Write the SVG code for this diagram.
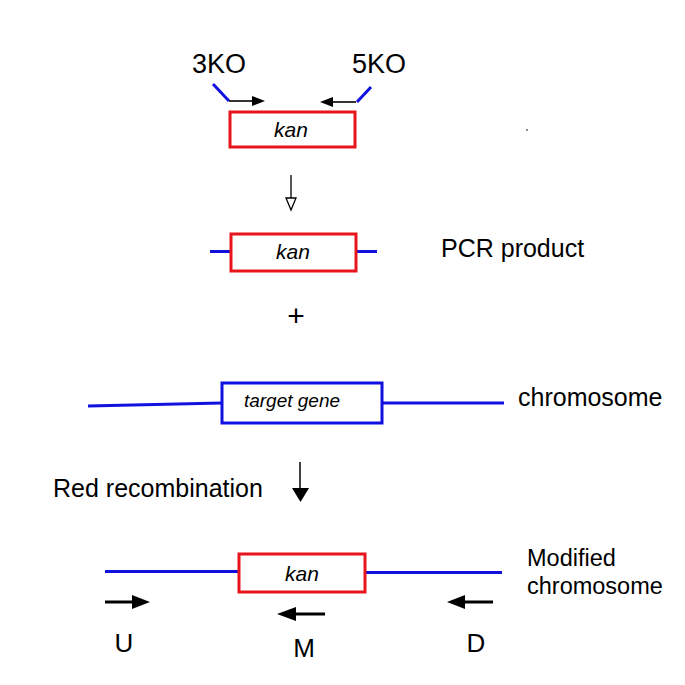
<svg xmlns="http://www.w3.org/2000/svg" width="685" height="685" viewBox="0 0 685 685">
<style>
text{font-family:"Liberation Sans",Arial,sans-serif;fill:#000}
.red{fill:#fff;stroke:#e8141c;stroke-width:3}
.blue{fill:#fff;stroke:#1010e0;stroke-width:3}
.dna{stroke:#1010e0;stroke-width:3;fill:none}
.ar{stroke:#000;stroke-width:3;fill:none}
.ar2{stroke:#000;stroke-width:1.6;fill:none}
.lbl{font-size:25px}
.lbl2{font-size:23.5px}
.pl{font-size:26px;text-anchor:middle}
.it{font-style:italic}
.kan{font-size:21px;font-style:italic;text-anchor:middle}
</style>
<rect width="685" height="685" fill="#fff"/>
<g id="primers">
<text x="192" y="73" font-size="27">3KO</text>
<text x="352" y="73" font-size="27">5KO</text>
<path class="dna" d="M213,84 L229,101"/>
<path class="dna" d="M371,87 L357,102"/>
</g>
<g id="kan-template">
<rect class="red" x="230" y="112" width="125" height="35"/>
<text class="kan" x="291" y="137">kan</text>
</g>
<g id="pcr-product">
<path class="dna" d="M210,251.5 H231 M356,251.5 H377"/>
<rect class="red" x="231" y="234" width="125" height="37"/>
<text class="kan" x="293" y="259">kan</text>
<text class="lbl" x="441" y="257">PCR product</text>
</g>
<g id="plus">
<text x="296" y="326" font-size="30" text-anchor="middle">+</text>
</g>
<g id="chromosome">
<path class="dna" d="M88,406 L222,403 M382,403 H504"/>
<rect class="blue" x="222" y="383" width="160" height="40"/>
<text class="it" x="292" y="407" font-size="19" text-anchor="middle">target gene</text>
<text class="lbl" x="518" y="406">chromosome</text>
</g>
<g id="red-recombination">
<text x="53" y="497" font-size="25">Red recombination</text>
</g>
<g id="modified-chromosome">
<path class="dna" d="M105,571.5 H239 M365,572.5 H502"/>
<rect class="red" x="239" y="554" width="126" height="38"/>
<text class="kan" x="302" y="581">kan</text>
<text class="lbl2" x="527" y="566">Modified</text>
<text class="lbl2" x="527" y="594">chromosome</text>
</g>
<g id="primer-labels">
<text class="pl" x="124" y="652">U</text>
<text class="pl" x="304" y="657">M</text>
<text class="pl" x="476" y="652">D</text>
</g>
<g id="connectors">
<path class="ar2" d="M229,101 H253"/>
<polygon points="252,96 265,101 252,106" fill="#000"/>
<path class="ar2" d="M356,102 H332"/>
<polygon points="333,97 320,102 333,107" fill="#000"/>
<path stroke="#000" stroke-width="1.3" fill="none" d="M291,175 V198"/>
<polygon points="286,198 296,198 291,210" fill="#fff" stroke="#000" stroke-width="1.3"/>
<path stroke="#000" stroke-width="1.5" fill="none" d="M300,462 V490"/>
<polygon points="292,488 309,488 300.5,502" fill="#000"/>
<path class="ar" d="M105,602 H134"/>
<polygon points="132,595 150,602 132,609" fill="#000"/>
<path class="ar" d="M325,614 H294"/>
<polygon points="296,607 277,614 296,621" fill="#000"/>
<path class="ar" d="M493,602 H464"/>
<polygon points="465,595 447,602 465,609" fill="#000"/>
</g>
<circle cx="527" cy="130" r="0.8" fill="#000"/>
</svg>
